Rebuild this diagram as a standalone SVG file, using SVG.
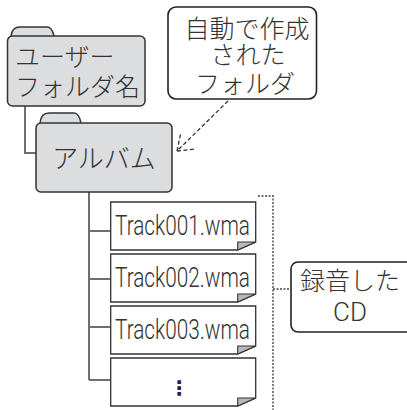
<svg xmlns="http://www.w3.org/2000/svg" width="407" height="410" viewBox="0 0 407 410">
<style>
.jp{font-family:"Noto Sans CJK JP","Noto Sans",sans-serif;font-size:25px;font-weight:300;fill:#333}
.tr{font-family:Roboto,"Liberation Sans",Arial,sans-serif;font-size:27px;font-weight:300;fill:#333}
.folder{fill:#dcdddf;stroke:#333;stroke-width:1.5;stroke-linejoin:round}
.file{fill:#fff;stroke:#333;stroke-width:1.3;stroke-linejoin:miter}
.ear{fill:#b8b9bb;stroke:#333;stroke-width:1.1;stroke-linejoin:miter}
.call{fill:#fff;stroke:#222;stroke-width:1.6}
.tree{fill:none;stroke:#6e6e6e;stroke-width:2}
.dash{fill:none;stroke:#333;stroke-width:1.3;stroke-dasharray:4 2.5}
.dot{fill:none;stroke:#444;stroke-width:1.4;stroke-dasharray:2 1.5}
</style>
<rect width="407" height="410" fill="#fff"/>
<g id="connectors">
<path class="tree" d="M25,106 V153 H36"/>
<path class="tree" d="M89,192 V380 M89,231 H111 M89,279 H111 M89,327 H111 M89,380 H111"/>
<path class="dash" d="M228,101 L177,151 M177,151 L181,132 M177,151 L196,149"/>
<path class="dot" d="M258,196 H273 V410 M273,289 H292"/>
</g>
<g id="user-folder">
<path class="folder" d="M11,36 Q12,27 20,27 H47 Q52,27 54,36"/>
<rect class="folder" x="7.5" y="36" width="137.5" height="70" rx="5"/>
<text class="jp"><tspan x="15" y="66">ユーザー</tspan><tspan x="15" y="96">フォルダ名</tspan></text>
</g>
<g id="album-folder">
<path class="folder" d="M40,123 Q41,113 49,113 H74 Q79,113 81,123"/>
<rect class="folder" x="36" y="123" width="136" height="69" rx="5"/>
<text class="jp" x="104" y="168" text-anchor="middle" style="font-size:26px">アルバム</text>
</g>
<g id="auto-callout">
<rect class="call" x="168" y="7" width="148.5" height="92" rx="8"/>
<text class="jp" text-anchor="middle"><tspan x="247" y="38">自動で作成</tspan><tspan x="248" y="64">された</tspan><tspan x="245" y="93">フォルダ</tspan></text>
</g>
<g id="track001">
<path class="file" d="M110.7,202 H255.7 V242 L237.7,250 H110.7 Z"/>
<path class="ear" d="M237.7,242 H255.7 L237.7,250 Z"/>
<text class="tr" x="115" y="235" textLength="135" lengthAdjust="spacingAndGlyphs">Track001.wma</text>
</g>
<g id="track002">
<path class="file" d="M110.7,254 H255.7 V294 L237.7,302 H110.7 Z"/>
<path class="ear" d="M237.7,294 H255.7 L237.7,302 Z"/>
<text class="tr" x="115" y="287" textLength="135" lengthAdjust="spacingAndGlyphs">Track002.wma</text>
</g>
<g id="track003">
<path class="file" d="M110.7,306 H255.7 V346 L237.7,354 H110.7 Z"/>
<path class="ear" d="M237.7,346 H255.7 L237.7,354 Z"/>
<text class="tr" x="115" y="339" textLength="135" lengthAdjust="spacingAndGlyphs">Track003.wma</text>
</g>
<g id="track-more">
<path class="file" d="M110.7,358 H255.7 V398 L237.7,406 H110.7 Z"/>
<path class="ear" d="M237.7,398 H255.7 L237.7,406 Z"/>
<text x="179" y="395" text-anchor="middle" style="font-family:'DejaVu Sans',sans-serif;font-size:20px;font-weight:bold;fill:#222">⋮</text>
</g>
<g id="cd-callout">
<rect class="call" x="291" y="262" width="130" height="70" rx="7"/>
<text class="jp"><tspan x="300" y="290">録音した</tspan><tspan class="tr" x="350" y="321" text-anchor="middle" style="font-size:26px">CD</tspan></text>
</g>
</svg>
